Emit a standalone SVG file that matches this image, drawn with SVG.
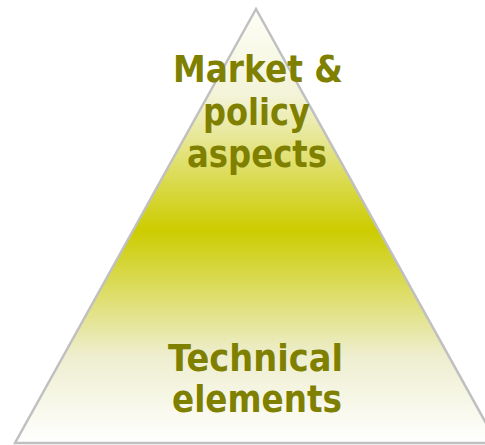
<svg xmlns="http://www.w3.org/2000/svg" width="485" height="445" viewBox="0 0 485 445">
<defs>
<linearGradient id="g" x1="0" y1="9" x2="0" y2="443" gradientUnits="userSpaceOnUse">
<stop offset="0" stop-color="#fefef8"/>
<stop offset="0.2" stop-color="#f3f3d8"/>
<stop offset="0.51" stop-color="#cccc00"/>
<stop offset="0.8" stop-color="#eeeed0"/>
<stop offset="1" stop-color="#ffffff"/>
</linearGradient>
<style>
.t{font-family:"DejaVu Sans",Verdana,sans-serif;font-weight:bold;font-size:38px;fill:#808000;text-anchor:middle}
</style>
</defs>
<g id="pyramid">
<polygon points="256,9 15,443 497,443" fill="url(#g)" stroke="#c0c0c0" stroke-width="2.5"/>
</g>
<g id="top-label">
<text class="t" x="258" y="82" textLength="170" lengthAdjust="spacingAndGlyphs">Market &amp;</text>
<text class="t" x="256.5" y="125" textLength="107" lengthAdjust="spacingAndGlyphs">policy</text>
<text class="t" x="257" y="167" textLength="140" lengthAdjust="spacingAndGlyphs">aspects</text>
</g>
<g id="bottom-label">
<text class="t" x="255.5" y="371" textLength="175" lengthAdjust="spacingAndGlyphs">Technical</text>
<text class="t" x="257" y="412" textLength="170" lengthAdjust="spacingAndGlyphs">elements</text>
</g>
<g id="connectors"/>
</svg>
